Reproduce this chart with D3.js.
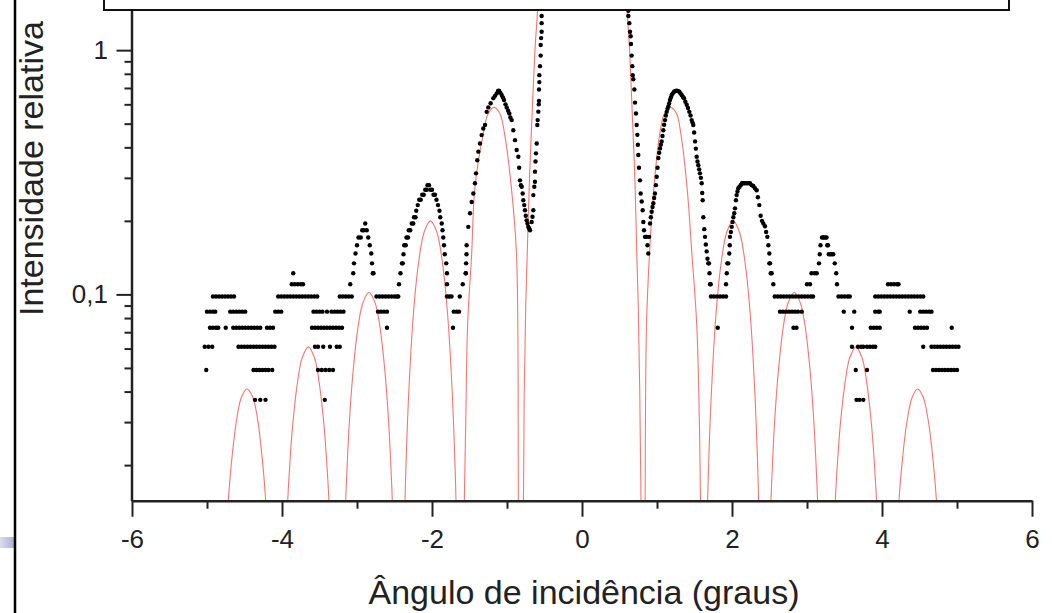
<!DOCTYPE html>
<html>
<head>
<meta charset="utf-8">
<script src="https://cdn.jsdelivr.net/npm/d3@7"></script>
<style>
  body { margin: 0; background: #fff; }
  svg { display: block; }
</style>
</head>
<body>
<svg width="1052" height="613"></svg>
<script>
// tick labels
const xTicks = [-6, -4, -2, 0, 2, 4, 6];
const xTickLabels = ['-6', '-4', '-2', '0', '2', '4', '6'];
const xMinorTicks = [-5, -3, -1, 1, 3, 5];
const yTicks = [0.1, 1];
const yTickLabels = ['0,1', '1'];
const yMinorTicks = [0.02, 0.03, 0.04, 0.05, 0.06, 0.07, 0.08, 0.09, 0.2, 0.3, 0.4, 0.5, 0.6, 0.7, 0.8, 0.9];

// theoretical curve, one array per lobe  [angle, intensity]
const fitLobes = [
  [[-4.75,0.01],[-4.716,0.0143],[-4.677,0.02],[-4.61,0.03],[-4.54,0.038],[-4.466,0.041],[-4.39,0.038],[-4.32,0.03],[-4.255,0.02],[-4.217,0.0143],[-4.185,0.01]],
  [[-3.946,0.01],[-3.924,0.0143],[-3.897,0.02],[-3.854,0.03],[-3.787,0.045],[-3.731,0.055],[-3.649,0.061],[-3.567,0.055],[-3.511,0.045],[-3.444,0.03],[-3.401,0.02],[-3.374,0.0143],[-3.352,0.01]],
  [[-3.168,0.01],[-3.151,0.0143],[-3.131,0.02],[-3.102,0.03],[-3.048,0.05],[-2.982,0.075],[-2.923,0.092],[-2.84,0.102],[-2.757,0.092],[-2.698,0.075],[-2.632,0.05],[-2.578,0.03],[-2.549,0.02],[-2.529,0.0143],[-2.512,0.01]],
  [[-2.371,0.01],[-2.36,0.0143],[-2.347,0.02],[-2.309,0.04],[-2.252,0.08],[-2.186,0.13],[-2.104,0.18],[-2.02,0.2],[-1.936,0.18],[-1.854,0.13],[-1.788,0.08],[-1.731,0.04],[-1.693,0.02],[-1.68,0.0143],[-1.669,0.01]],
  [[-1.572,0.01],[-1.569,0.0143],[-1.55,0.03],[-1.525,0.075],[-1.471,0.147],[-1.427,0.276],[-1.324,0.442],[-1.25,0.55],[-1.17,0.583],[-1.095,0.55],[-1.03,0.45],[-0.945,0.28],[-0.875,0.15],[-0.855,0.07],[-0.851,0.03],[-0.849,0.0143],[-0.848,0.01]],
  [[-0.8,0.01],[-0.782,0.0143],[-0.77,0.04],[-0.75,0.09],[-0.729,0.152],[-0.7,0.3],[-0.665,0.55],[-0.627,1.0],[-0.596,1.4],[-0.57,2.0]],
  [[0.57,2.0],[0.605,1.4],[0.635,1.0],[0.67,0.55],[0.705,0.3],[0.729,0.152],[0.75,0.09],[0.77,0.04],[0.787,0.0143],[0.8,0.01]],
  [[0.84,0.01],[0.842,0.0143],[0.846,0.03],[0.86,0.075],[0.9,0.147],[0.96,0.276],[1.035,0.45],[1.1,0.55],[1.182,0.583],[1.26,0.55],[1.32,0.45],[1.4,0.276],[1.465,0.147],[1.53,0.075],[1.565,0.03],[1.58,0.0143],[1.585,0.01]],
  [[1.664,0.01],[1.675,0.0143],[1.688,0.02],[1.726,0.04],[1.783,0.08],[1.849,0.13],[1.931,0.18],[2.015,0.2],[2.099,0.18],[2.181,0.13],[2.247,0.08],[2.304,0.04],[2.342,0.02],[2.355,0.0143],[2.366,0.01]],
  [[2.502,0.01],[2.519,0.0143],[2.539,0.02],[2.568,0.03],[2.622,0.05],[2.688,0.075],[2.747,0.092],[2.83,0.102],[2.913,0.092],[2.972,0.075],[3.038,0.05],[3.092,0.03],[3.121,0.02],[3.141,0.0143],[3.158,0.01]],
  [[3.355,0.01],[3.377,0.0143],[3.404,0.02],[3.447,0.03],[3.514,0.045],[3.57,0.055],[3.652,0.061],[3.734,0.055],[3.79,0.045],[3.857,0.03],[3.9,0.02],[3.927,0.0143],[3.949,0.01]],
  [[4.196,0.01],[4.226,0.0143],[4.265,0.02],[4.332,0.03],[4.404,0.038],[4.476,0.041],[4.548,0.038],[4.62,0.03],[4.687,0.02],[4.726,0.0143],[4.756,0.01]]
];

// measured points sitting on the flat low rows  [intensity, [angles]]
const expRows = [
  [0.037, [-4.36,-4.29,-4.22,-3.43,3.66,3.70,3.75]],
  [0.049, [-5.01,-4.38,-4.34,-4.30,-4.26,-4.22,-4.18,-4.13,-3.52,-3.47,-3.42,-3.37,-3.32,3.65,3.80,4.68,4.72,4.76,4.80,4.84,4.88,4.92,4.96,5.00]],
  [0.061, [-5.03,-4.98,-4.93,-4.58,-4.54,-4.50,-4.46,-4.42,-4.38,-4.34,-4.30,-4.26,-4.22,-4.18,-4.14,-4.10,-3.56,-3.52,-3.45,-3.36,-3.27,-3.23,3.60,3.68,3.72,3.75,3.80,3.84,3.88,3.91,4.55,4.66,4.70,4.74,4.78,4.82,4.86,4.90,4.94,4.98,5.02]],
  [0.073, [-4.96,-4.92,-4.88,-4.85,-4.75,-4.65,-4.61,-4.57,-4.53,-4.49,-4.45,-4.41,-4.37,-4.33,-4.29,-4.20,-4.16,-4.12,-3.60,-3.56,-3.52,-3.48,-3.44,-3.40,-3.36,-3.32,-3.28,-3.24,-3.20,-2.60,-1.72,1.81,2.82,2.86,3.60,3.85,3.89,3.93,3.97,4.44,4.48,4.52,4.56,4.60,4.93]],
  [0.085, [-5.00,-4.96,-4.92,-4.89,-4.69,-4.65,-4.61,-4.57,-4.53,-4.49,-4.09,-4.05,-4.01,-3.58,-3.54,-3.50,-3.46,-3.40,-3.34,-3.30,-3.26,-3.22,-3.18,-2.72,-2.68,-2.64,-2.60,-1.71,-1.67,-1.64,2.64,2.68,2.72,2.76,2.80,2.84,2.88,2.93,3.49,3.63,3.91,3.95,3.97,4.37,4.51,4.55,4.59,4.63,4.66]],
  [0.098, [-4.92,-4.88,-4.84,-4.80,-4.76,-4.72,-4.68,-4.64,-4.05,-4.01,-3.97,-3.93,-3.89,-3.85,-3.81,-3.77,-3.73,-3.69,-3.65,-3.61,-3.57,-3.53,-3.23,-3.19,-3.15,-3.11,-3.07,-2.74,-2.70,-2.66,-2.62,-2.58,-2.54,-2.50,-2.47,-1.80,-1.77,-1.74,-1.63,1.72,1.76,1.80,1.84,1.88,1.92,2.57,2.61,2.65,2.69,2.73,2.77,2.81,2.85,2.89,2.93,2.97,3.01,3.05,3.08,3.42,3.46,3.50,3.54,3.57,3.91,3.95,3.99,4.03,4.07,4.11,4.15,4.19,4.23,4.27,4.31,4.35,4.39,4.43,4.47,4.51,4.55]],
  [0.11, [-3.87,-3.83,-3.79,-3.75,-3.72,-3.09,-1.59,4.08,4.12,4.16,4.20,4.22]],
  [0.122, [-3.85,-3.05,-1.55]],
  [0.134, [-3.04]]
];

// measured points on the peaks  [angle, intensity]
const expPeaks = [
  [-3.02,0.147],[-3.00,0.159],[-2.98,0.171],[-2.95,0.171],[-2.93,0.183],[-2.91,0.183],[-2.89,0.195],[-2.87,0.183],[-2.85,0.171],[-2.83,0.159],[-2.81,0.147],[-2.80,0.134],[-2.79,0.122],[-2.78,0.122],
  [-2.45,0.098],[-2.44,0.11],[-2.42,0.122],[-2.40,0.134],[-2.39,0.134],[-2.38,0.146],[-2.37,0.159],[-2.35,0.159],[-2.34,0.171],[-2.32,0.171],[-2.31,0.183],[-2.29,0.183],[-2.27,0.195],[-2.25,0.195],[-2.24,0.207],[-2.22,0.207],[-2.21,0.22],[-2.19,0.232],[-2.17,0.244],[-2.15,0.244],[-2.13,0.256],[-2.11,0.256],[-2.09,0.268],[-2.07,0.268],[-2.06,0.28],[-2.04,0.28],[-2.02,0.268],[-2.00,0.268],[-1.98,0.256],[-1.96,0.256],[-1.94,0.244],[-1.92,0.232],[-1.90,0.22],[-1.89,0.207],[-1.87,0.195],[-1.86,0.183],[-1.85,0.171],[-1.84,0.159],[-1.83,0.146],[-1.81,0.134],[-1.80,0.122],[-1.80,0.11],
  [-1.55,0.122],[-1.545,0.134],[-1.54,0.146],[-1.538,0.159],[-1.516,0.189],[-1.493,0.215],[-1.471,0.239],[-1.449,0.259],[-1.427,0.285],[-1.413,0.313],[-1.396,0.354],[-1.382,0.384],[-1.36,0.415],[-1.338,0.449],[-1.316,0.478],[-1.293,0.494],[-1.271,0.559],[-1.249,0.583],[-1.218,0.606],[-1.182,0.636],[-1.16,0.65],[-1.138,0.665],[-1.12,0.68],[-1.107,0.682],[-1.09,0.67],[-1.071,0.655],[-1.055,0.64],[-1.04,0.625],[-1.02,0.6],[-1.004,0.583],[-0.985,0.565],[-0.969,0.55],[-0.955,0.53],[-0.938,0.517],[-0.916,0.47],[-0.893,0.428],[-0.871,0.39],[-0.849,0.366],[-0.838,0.33],[-0.827,0.293],[-0.815,0.28],[-0.804,0.276],[-0.791,0.259],[-0.782,0.243],[-0.77,0.232],[-0.76,0.221],[-0.75,0.21],[-0.738,0.201],[-0.727,0.195],[-0.716,0.189],[-0.705,0.186],[-0.693,0.183],
  [-0.671,0.198],[-0.66,0.208],[-0.649,0.221],[-0.649,0.255],[-0.636,0.276],[-0.627,0.289],[-0.627,0.318],[-0.62,0.35],[-0.613,0.378],[-0.604,0.415],[-0.596,0.494],[-0.591,0.517],[-0.582,0.56],[-0.576,0.6],[-0.573,0.62],[-0.573,0.69],[-0.569,0.74],[-0.569,0.79],[-0.56,0.86],[-0.551,0.95],[-0.551,1.05],[-0.545,1.12],[-0.538,1.19],[-0.538,1.29],[-0.538,1.38],[-0.535,1.48],
  [0.618,1.45],[0.618,1.38],[0.631,1.29],[0.64,1.19],[0.649,1.14],[0.653,1.06],[0.662,0.95],[0.671,0.86],[0.676,0.79],[0.684,0.76],[0.698,0.69],[0.707,0.61],[0.72,0.55],[0.729,0.494],[0.738,0.45],[0.745,0.41],[0.751,0.372],[0.76,0.33],[0.773,0.293],[0.782,0.259],[0.796,0.24],[0.809,0.221],[0.818,0.198],[0.827,0.183],[0.84,0.172],[0.853,0.172],[0.862,0.172],[0.873,0.159],[0.884,0.147],[0.895,0.172],[0.907,0.195],
  [0.918,0.207],[0.929,0.218],[0.94,0.228],[0.951,0.236],[0.962,0.248],[0.973,0.259],[0.985,0.28],[0.996,0.303],[1.007,0.33],[1.018,0.362],[1.029,0.38],[1.04,0.396],[1.051,0.41],[1.062,0.423],[1.073,0.445],[1.084,0.47],[1.095,0.495],[1.107,0.517],[1.118,0.54],[1.129,0.559],[1.14,0.575],[1.151,0.588],[1.162,0.605],[1.173,0.625],[1.185,0.64],[1.196,0.655],[1.21,0.665],[1.227,0.676],[1.245,0.68],[1.262,0.682],[1.28,0.68],[1.298,0.676],[1.313,0.665],[1.329,0.655],[1.345,0.645],[1.36,0.636],[1.378,0.615],[1.396,0.598],[1.413,0.58],[1.431,0.559],[1.447,0.54],[1.462,0.517],[1.473,0.505],[1.484,0.494],[1.495,0.46],[1.507,0.423],[1.518,0.395],[1.529,0.366],[1.54,0.35],[1.551,0.338],[1.562,0.325],[1.573,0.313],[1.585,0.3],[1.596,0.285],[1.603,0.26],[1.609,0.243],[1.618,0.207],[1.63,0.185],[1.64,0.172],[1.651,0.16],[1.662,0.15],[1.673,0.14],[1.684,0.134],[1.693,0.134],[1.70,0.122],[1.707,0.11],[1.716,0.11],
  [1.92,0.11],[1.93,0.122],[1.938,0.134],[1.951,0.134],[1.964,0.147],[1.97,0.159],[1.973,0.172],[1.985,0.18],[1.996,0.189],[2.007,0.198],[2.018,0.207],[2.03,0.215],[2.04,0.225],[2.053,0.243],[2.062,0.255],[2.073,0.264],[2.084,0.272],[2.10,0.276],[2.116,0.28],[2.133,0.285],[2.151,0.285],[2.173,0.285],[2.196,0.285],[2.218,0.285],[2.24,0.285],[2.262,0.28],[2.284,0.278],[2.306,0.272],[2.329,0.267],[2.345,0.25],[2.364,0.232],[2.382,0.21],[2.40,0.2],[2.418,0.195],[2.44,0.19],[2.455,0.18],[2.471,0.172],[2.485,0.159],[2.498,0.147],[2.498,0.134],[2.507,0.134],[2.516,0.122],[2.529,0.122],[2.551,0.11],
  [3.00,0.11],[3.04,0.11],[3.06,0.122],[3.10,0.122],[3.13,0.122],[3.16,0.134],[3.17,0.146],[3.18,0.159],[3.20,0.171],[3.22,0.171],[3.24,0.171],[3.26,0.171],[3.27,0.159],[3.28,0.159],[3.29,0.146],[3.31,0.146],[3.33,0.146],[3.35,0.146],[3.37,0.134],[3.39,0.122],[3.40,0.11]
];

var svg = d3.select('svg');
var font = '"Liberation Sans", Arial, sans-serif';

var x = d3.scaleLinear().domain([-6, 6]).range([132, 1032]);
var y = d3.scaleLog().domain([0.0143, 1.46]).range([500.7, 10]);

// slide leftovers on the left edge
var grad = svg.append('defs').append('linearGradient').attr('id', 'lav');
grad.append('stop').attr('offset', '0%').attr('stop-color', '#dcdcef');
grad.append('stop').attr('offset', '100%').attr('stop-color', '#aeb0d6');
svg.append('rect').attr('x', 0).attr('y', 537).attr('width', 14).attr('height', 11).attr('fill', 'url(#lav)');
svg.append('line').attr('x1', 15).attr('x2', 15).attr('y1', 0).attr('y2', 613)
  .attr('stroke', '#000').attr('stroke-width', 2.5);

svg.select('defs').append('clipPath').attr('id', 'plot')
  .append('rect').attr('x', 132).attr('y', -60).attr('width', 900).attr('height', 560.7);

var g = svg.append('g').attr('clip-path', 'url(#plot)');

var line = d3.line().x(d => x(d[0])).y(d => y(d[1])).curve(d3.curveCatmullRom.alpha(0.5));
g.selectAll('.fit')
  .data(fitLobes)
  .enter()
  .append('path')
  .attr('class', 'fit')
  .attr('d', line)
  .attr('fill', 'none')
  .attr('stroke', '#ff7373')
  .attr('stroke-width', 1.1);

var points = [];
expRows.forEach(function (r) {
  r[1].forEach(function (a) { points.push([a, r[0]]); });
});
points = points.concat(expPeaks);

g.selectAll('.pt')
  .data(points)
  .enter()
  .append('circle')
  .attr('class', 'pt')
  .attr('cx', d => x(d[0]))
  .attr('cy', d => y(d[1]))
  .attr('r', 2.2)
  .attr('fill', '#000');

// axes
function styleAxis(sel, w) {
  sel.select('.domain').attr('stroke', '#222').attr('stroke-width', 2.5);
  sel.selectAll('.tick line').attr('stroke', '#222').attr('stroke-width', w);
  sel.selectAll('.tick text').attr('fill', '#222').style('font-family', font).style('font-size', '26px');
}

var xMinor = svg.append('g').attr('transform', 'translate(0,500.7)')
  .call(d3.axisBottom(x).tickValues(xMinorTicks).tickSize(8).tickSizeOuter(0).tickFormat(''));
xMinor.select('.domain').remove();
styleAxis(xMinor, 2);

var xAxis = svg.append('g').attr('transform', 'translate(0,500.7)')
  .call(d3.axisBottom(x).tickValues(xTicks).tickSize(16).tickSizeOuter(0).tickPadding(13)
    .tickFormat((d, i) => xTickLabels[i]));
styleAxis(xAxis, 2);

var yMinor = svg.append('g').attr('transform', 'translate(131.5,0)')
  .call(d3.axisLeft(y).tickValues(yMinorTicks).tickSize(7).tickSizeOuter(0).tickFormat(''));
yMinor.select('.domain').remove();
styleAxis(yMinor, 2);

var yAxis = svg.append('g').attr('transform', 'translate(131.5,0)')
  .call(d3.axisLeft(y).tickValues(yTicks).tickSize(15).tickSizeOuter(0).tickPadding(8.5)
    .tickFormat((d, i) => yTickLabels[i]));
styleAxis(yAxis, 2);

// axis titles
svg.append('text')
  .attr('x', 584)
  .attr('y', 604)
  .attr('text-anchor', 'middle')
  .attr('fill', '#222')
  .style('font-family', font)
  .style('font-size', '34px')
  .text('Ângulo de incidência (graus)');

svg.append('text')
  .attr('transform', 'translate(43,316) rotate(-90)')
  .attr('text-anchor', 'start')
  .attr('fill', '#222')
  .style('font-family', font)
  .style('font-size', '34px')
  .text('Intensidade relativa');

// legend frame, cut by the top of the picture
svg.append('rect')
  .attr('x', 104)
  .attr('y', -30)
  .attr('width', 905)
  .attr('height', 40)
  .attr('fill', '#fff')
  .attr('stroke', '#111')
  .attr('stroke-width', 2);
</script>
</body>
</html>
